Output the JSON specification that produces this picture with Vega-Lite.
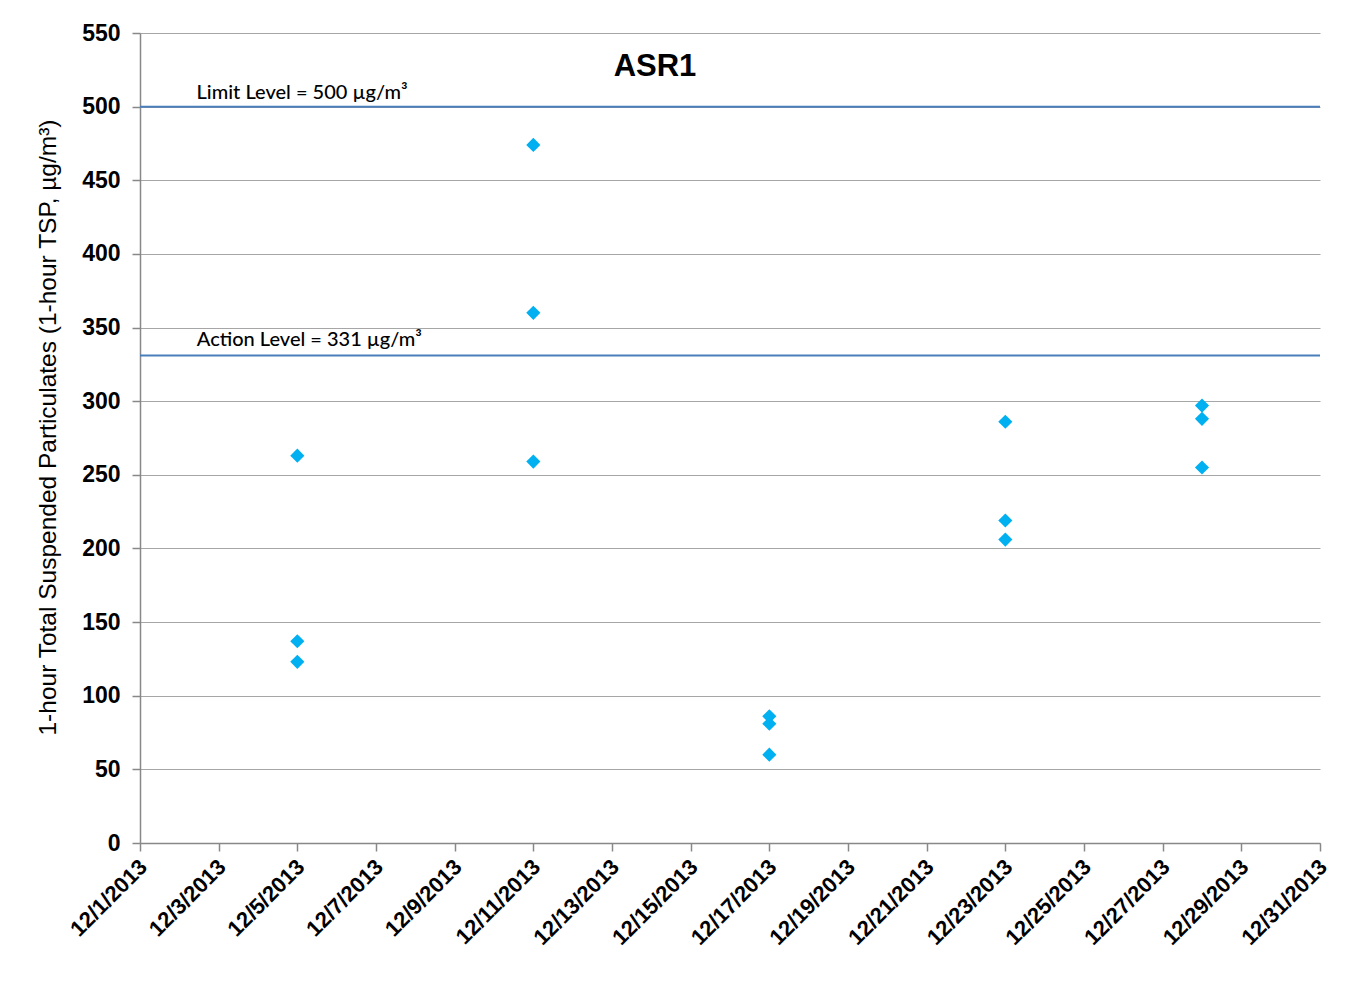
{
  "$schema": "https://vega.github.io/schema/vega-lite/v6.json",
  "autosize": "none",
  "width": 1180,
  "height": 810,
  "padding": {"left": 140, "top": 33, "right": 39, "bottom": 146},
  "background": "white",
  "config": {"view": {"stroke": null}},
  "title": {"text": "ASR1", "font": "Liberation Sans", "fontSize": 31, "fontWeight": "bold", "color": "#000000", "offset": 0, "dy": 85, "dx": -75, "baseline": "alphabetic"},
  "datasets": {
    "points": [
      {"date": "2013-12-05", "tsp": 263},
      {"date": "2013-12-05", "tsp": 137},
      {"date": "2013-12-05", "tsp": 123},
      {"date": "2013-12-11", "tsp": 474},
      {"date": "2013-12-11", "tsp": 360},
      {"date": "2013-12-11", "tsp": 259},
      {"date": "2013-12-17", "tsp": 86},
      {"date": "2013-12-17", "tsp": 81},
      {"date": "2013-12-17", "tsp": 60},
      {"date": "2013-12-23", "tsp": 286},
      {"date": "2013-12-23", "tsp": 219},
      {"date": "2013-12-23", "tsp": 206},
      {"date": "2013-12-28", "tsp": 297},
      {"date": "2013-12-28", "tsp": 288},
      {"date": "2013-12-28", "tsp": 255}
    ],
    "levels": [
      {"level": 500, "label": "Limit Level = 500 µg/m³", "labelDate": "2013-12-02T10:30:00", "labelY": 509},
      {"level": 331, "label": "Action Level = 331 µg/m³", "labelDate": "2013-12-02T10:40:00", "labelY": 341.5}
    ]
  },
  "layer": [
    {
      "data": {"name": "levels"},
      "mark": {"type": "rule", "color": "#4A7EBB", "strokeWidth": 2},
      "encoding": {
        "y": {"field": "level", "type": "quantitative", "scale": {"domain": [0, 550]}}
      }
    },
    {
      "data": {"name": "levels"},
      "mark": {"type": "text", "font": "Lato", "fontSize": 20, "fontWeight": 500, "align": "left", "baseline": "middle", "color": "#000000"},
      "encoding": {
        "x": {"field": "labelDate", "type": "temporal"},
        "y": {"field": "labelY", "type": "quantitative"},
        "text": {"field": "label"}
      }
    },
    {
      "data": {"name": "points"},
      "mark": {"type": "point", "shape": "diamond", "filled": true, "color": "#00B0F0", "size": 200, "opacity": 1},
      "encoding": {
        "x": {
          "field": "date", "type": "temporal",
          "scale": {"type": "utc", "domain": ["2013-12-01T00:00:00Z", "2013-12-31T00:00:00Z"]},
          "axis": {
            "title": null,
            "values": ["2013-12-01T00:00:00Z","2013-12-03T00:00:00Z","2013-12-05T00:00:00Z","2013-12-07T00:00:00Z","2013-12-09T00:00:00Z","2013-12-11T00:00:00Z","2013-12-13T00:00:00Z","2013-12-15T00:00:00Z","2013-12-17T00:00:00Z","2013-12-19T00:00:00Z","2013-12-21T00:00:00Z","2013-12-23T00:00:00Z","2013-12-25T00:00:00Z","2013-12-27T00:00:00Z","2013-12-29T00:00:00Z","2013-12-31T00:00:00Z"],
            "labelExpr": "utcFormat(datum.value, '%-m/%-d/%Y')",
            "labelAngle": -45,
            "labelAlign": "right",
            "labelBaseline": "middle",
            "labelFont": "Liberation Sans",
            "labelFontSize": 22,
            "labelFontWeight": "bold",
            "labelColor": "#000000",
            "labelPadding": 12,
            "labelOffset": 3,
            "labelOverlap": false,
            "labelBound": false,
            "labelFlush": false,
            "grid": false,
            "domainColor": "#888888",
            "domainWidth": 1.5,
            "tickColor": "#888888",
            "tickSize": 8,
            "tickWidth": 1.5
          }
        },
        "y": {
          "field": "tsp", "type": "quantitative",
          "scale": {"domain": [0, 550], "nice": false},
          "axis": {
            "title": "1-hour Total Suspended Particulates (1-hour TSP, µg/m³)",
            "titleFont": "Liberation Sans",
            "titleFontSize": 24.5,
            "titleFontWeight": "normal",
            "titleColor": "#000000",
            "titleX": -92,
            "titleY": 394,
            "titleAlign": "center",
            "titleBaseline": "middle",
            "values": [0, 50, 100, 150, 200, 250, 300, 350, 400, 450, 500, 550],
            "labelFont": "Liberation Sans",
            "labelFontSize": 23,
            "labelFontWeight": "bold",
            "labelColor": "#000000",
            "labelPadding": 12,
            "grid": true,
            "gridColor": "#A6A6A6",
            "gridWidth": 1,
            "domainColor": "#888888",
            "domainWidth": 1.5,
            "tickColor": "#888888",
            "tickSize": 8,
            "tickWidth": 1.5
          }
        }
      }
    }
  ]
}
